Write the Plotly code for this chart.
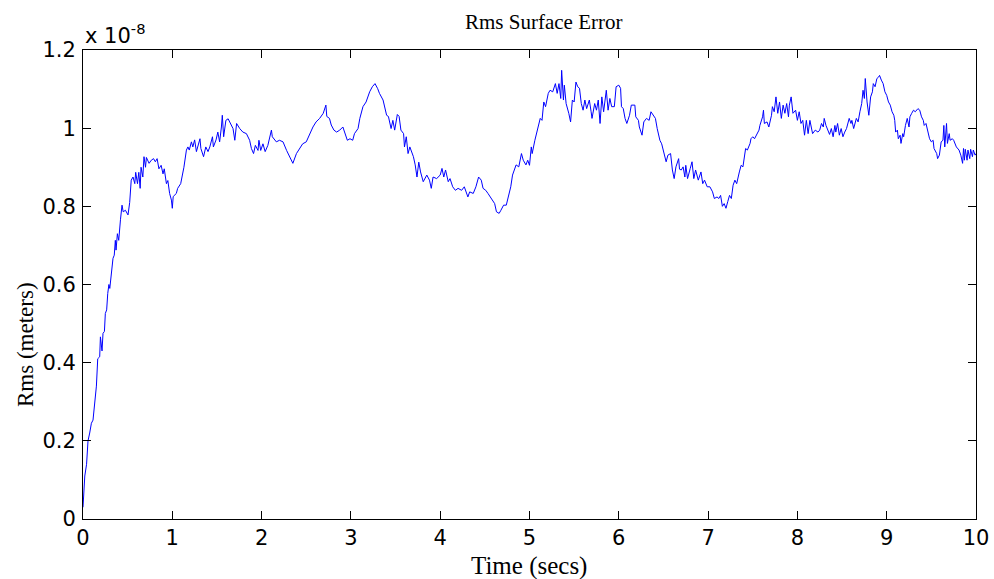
import plotly.graph_objects as go

# RMS surface error samples: (time in s, rms in units of 1e-8 m)
seg_rise = [
    (0.0, 0.03), (0.01, 0.08), (0.02, 0.11), (0.04, 0.14), (0.056, 0.20), (0.075, 0.22),
    (0.094, 0.245), (0.112, 0.253), (0.12, 0.27), (0.15, 0.34), (0.165, 0.41), (0.187, 0.415),
    (0.195, 0.466), (0.213, 0.43), (0.224, 0.475), (0.24, 0.48), (0.25, 0.526), (0.265, 0.535),
    (0.277, 0.577), (0.29, 0.60), (0.30, 0.59), (0.318, 0.637), (0.336, 0.667), (0.35, 0.675),
    (0.362, 0.713), (0.37, 0.688), (0.385, 0.73), (0.40, 0.713), (0.41, 0.757), (0.42, 0.767),
    (0.437, 0.803), (0.45, 0.786), (0.475, 0.79), (0.504, 0.778), (0.523, 0.81), (0.54, 0.867),
    (0.56, 0.875), (0.58, 0.858), (0.59, 0.887), (0.61, 0.858), (0.625, 0.887), (0.64, 0.846),
    (0.65, 0.90), (0.67, 0.875), (0.683, 0.927), (0.70, 0.90), (0.71, 0.925), (0.74, 0.91),
    (0.765, 0.918), (0.79, 0.922), (0.81, 0.914), (0.83, 0.922), (0.85, 0.896), (0.875, 0.905),
    (0.896, 0.883), (0.91, 0.896), (0.934, 0.858), (0.95, 0.866), (0.97, 0.833), (0.99, 0.816),
    (1.0, 0.795), (1.01, 0.825), (1.045, 0.833), (1.06, 0.846), (1.094, 0.858), (1.11, 0.875),
    (1.13, 0.90), (1.158, 0.944), (1.175, 0.952), (1.19, 0.944), (1.214, 0.965), (1.23, 0.952),
    (1.25, 0.97), (1.27, 0.94), (1.29, 0.96), (1.31, 0.973), (1.32, 0.948), (1.35, 0.927),
    (1.375, 0.952), (1.40, 0.94), (1.42, 0.952), (1.45, 0.978), (1.46, 0.952), (1.49, 0.97),
    (1.51, 0.99), (1.53, 0.965), (1.55, 1.003), (1.56, 1.033), (1.575, 0.978), (1.60, 1.02),
    (1.625, 1.024),
]

seg_2_3 = [
    (1.68, 0.999), (1.70, 0.969), (1.72, 1.012), (1.755, 0.999), (1.79, 0.99), (1.83, 0.986),
    (1.85, 0.978), (1.866, 0.969), (1.886, 0.948), (1.91, 0.935), (1.93, 0.956), (1.96, 0.943),
    (1.97, 0.969), (1.99, 0.943), (2.015, 0.96), (2.04, 0.94), (2.07, 0.956), (2.09, 0.978),
    (2.11, 0.995), (2.12, 0.978), (2.165, 0.965), (2.2, 0.969), (2.24, 0.965), (2.28, 0.943),
    (2.315, 0.926), (2.35, 0.91), (2.39, 0.935), (2.43, 0.948), (2.46, 0.96), (2.5, 0.965),
    (2.54, 0.986), (2.575, 1.003), (2.61, 1.016), (2.65, 1.025), (2.69, 1.038), (2.72, 1.059),
    (2.73, 1.03), (2.76, 1.025), (2.78, 1.008), (2.81, 0.995), (2.84, 0.99), (2.875, 0.995),
    (2.91, 1.003), (2.93, 0.99), (2.96, 0.969), (2.99, 0.973), (3.02, 0.969), (3.04, 0.986),
    (3.08, 0.999), (3.10, 1.025), (3.135, 1.055), (3.17, 1.067), (3.21, 1.093), (3.24, 1.106),
    (3.27, 1.114), (3.30, 1.101),
]

seg_3_5 = [
    (3.32, 1.089), (3.36, 1.072), (3.38, 1.055), (3.40, 1.033), (3.42, 1.03), (3.45, 0.999),
    (3.47, 1.02), (3.49, 0.995), (3.52, 1.035), (3.54, 1.03), (3.56, 0.995), (3.59, 0.986),
    (3.60, 0.952), (3.62, 0.978), (3.64, 0.935), (3.66, 0.952), (3.70, 0.927), (3.72, 0.906),
    (3.74, 0.875), (3.76, 0.913), (3.78, 0.888), (3.81, 0.863), (3.85, 0.88), (3.88, 0.867),
    (3.90, 0.846), (3.92, 0.875), (3.96, 0.871), (4.0, 0.88), (4.02, 0.897), (4.04, 0.875),
    (4.06, 0.893), (4.09, 0.863), (4.11, 0.871), (4.14, 0.85), (4.17, 0.841), (4.20, 0.846),
    (4.24, 0.841), (4.27, 0.85), (4.31, 0.824), (4.33, 0.837), (4.37, 0.833), (4.40, 0.85),
    (4.43, 0.875), (4.46, 0.867), (4.48, 0.846), (4.51, 0.841), (4.535, 0.833), (4.57, 0.82),
    (4.61, 0.807), (4.63, 0.786), (4.66, 0.782), (4.68, 0.79), (4.71, 0.803), (4.74, 0.803),
    (4.76, 0.82), (4.79, 0.85), (4.81, 0.88), (4.83, 0.893), (4.85, 0.906), (4.88, 0.901),
    (4.91, 0.935), (4.93, 0.918), (4.96, 0.906), (4.98, 0.918),
]

seg_5_7 = [
    (5.0, 0.905), (5.02, 0.952), (5.03, 0.935), (5.06, 0.969), (5.08, 0.99), (5.10, 1.003),
    (5.12, 1.025), (5.14, 1.02), (5.16, 1.067), (5.18, 1.055), (5.21, 1.089), (5.23, 1.097),
    (5.26, 1.093), (5.29, 1.114), (5.31, 1.089), (5.33, 1.114), (5.35, 1.076), (5.36, 1.148),
    (5.38, 1.072), (5.39, 1.11), (5.41, 1.063), (5.44, 1.038), (5.46, 1.016), (5.48, 1.072),
    (5.50, 1.067), (5.52, 1.118), (5.54, 1.106), (5.56, 1.102), (5.58, 1.063), (5.60, 1.046),
    (5.62, 1.072), (5.64, 1.05), (5.67, 1.072), (5.69, 1.042), (5.70, 1.025), (5.73, 1.063),
    (5.75, 1.046), (5.77, 1.072), (5.79, 1.012), (5.81, 1.08), (5.83, 1.042), (5.86, 1.097),
    (5.88, 1.046), (5.90, 1.076), (5.92, 1.055), (5.95, 1.055), (5.97, 1.106), (6.0, 1.11),
    (6.02, 1.102), (6.03, 1.055), (6.05, 1.05), (6.07, 1.025), (6.09, 1.012), (6.12, 1.033),
    (6.14, 1.059), (6.18, 1.059), (6.19, 1.029), (6.22, 1.02), (6.23, 1.003), (6.26, 0.982),
    (6.28, 1.016), (6.31, 1.025), (6.34, 1.02), (6.36, 1.042), (6.39, 1.033), (6.41, 1.025),
    (6.43, 0.999), (6.46, 0.969), (6.48, 0.96), (6.51, 0.931), (6.53, 0.914), (6.55, 0.931),
    (6.58, 0.935), (6.60, 0.893), (6.62, 0.871), (6.64, 0.901), (6.67, 0.922),
]

seg_7_8 = [
    (6.68, 0.895), (6.70, 0.893), (6.72, 0.901), (6.74, 0.875), (6.75, 0.905), (6.77, 0.871),
    (6.80, 0.897), (6.82, 0.914), (6.84, 0.871), (6.86, 0.893), (6.89, 0.867), (6.92, 0.888),
    (6.94, 0.858), (6.96, 0.867), (6.99, 0.85), (7.02, 0.85), (7.05, 0.837), (7.07, 0.82),
    (7.10, 0.824), (7.12, 0.82), (7.14, 0.828), (7.16, 0.80), (7.18, 0.807), (7.20, 0.795),
    (7.22, 0.812), (7.24, 0.828), (7.26, 0.82), (7.28, 0.854), (7.30, 0.867), (7.32, 0.858),
    (7.35, 0.888), (7.37, 0.905), (7.39, 0.901), (7.41, 0.927), (7.42, 0.948), (7.44, 0.944),
    (7.46, 0.956), (7.47, 0.961), (7.48, 0.973), (7.50, 0.978), (7.52, 0.973), (7.54, 0.982),
    (7.57, 0.995), (7.58, 1.007), (7.61, 1.029), (7.62, 1.046), (7.63, 1.012), (7.66, 1.016),
    (7.68, 1.003), (7.71, 1.033), (7.72, 1.055), (7.74, 1.042), (7.76, 1.080), (7.78, 1.038),
    (7.80, 1.067), (7.82, 1.025), (7.84, 1.059), (7.86, 1.038), (7.88, 1.063), (7.90, 1.029),
    (7.91, 1.059), (7.93, 1.080), (7.95, 1.038), (7.98, 1.046), (8.00, 1.020), (8.02, 1.042),
    (8.04, 1.012), (8.06, 1.020), (8.08, 0.982), (8.10, 1.020), (8.12, 0.986), (8.14, 1.020),
    (8.17, 0.986), (8.20, 0.995), (8.23, 0.99), (8.25, 0.995), (8.27, 1.012), (8.29, 1.003),
    (8.30, 1.025), (8.32, 1.007), (8.34, 0.995),
]

seg_8_10 = [
    (8.36, 0.984), (8.38, 0.999), (8.40, 0.978), (8.42, 1.007), (8.43, 0.99), (8.45, 1.012),
    (8.47, 0.982), (8.49, 0.999), (8.51, 0.978), (8.53, 0.99), (8.55, 0.999), (8.58, 1.025),
    (8.60, 1.012), (8.61, 1.02), (8.63, 0.999), (8.66, 1.025), (8.68, 1.016), (8.70, 1.042),
    (8.72, 1.063), (8.735, 1.097), (8.75, 1.076), (8.76, 1.127), (8.77, 1.089), (8.78, 1.067),
    (8.80, 1.033), (8.82, 1.080), (8.84, 1.093), (8.85, 1.114), (8.87, 1.106), (8.89, 1.127),
    (8.91, 1.131), (8.92, 1.135), (8.94, 1.123), (8.96, 1.114), (8.98, 1.093), (9.00, 1.084),
    (9.02, 1.067), (9.04, 1.059), (9.06, 1.042), (9.08, 1.033), (9.09, 1.020), (9.10, 0.99),
    (9.12, 0.995), (9.13, 0.973), (9.15, 0.982), (9.16, 0.961), (9.18, 0.986), (9.19, 0.978),
    (9.21, 1.007), (9.23, 1.025), (9.25, 1.003), (9.26, 1.029), (9.28, 1.038), (9.30, 1.046),
    (9.32, 1.042), (9.35, 1.050), (9.37, 1.046), (9.39, 1.029), (9.41, 1.020), (9.42, 1.007),
    (9.44, 1.012), (9.46, 0.99), (9.48, 0.973), (9.50, 0.965), (9.52, 0.969), (9.53, 0.948),
    (9.56, 0.935), (9.57, 0.922), (9.59, 0.931), (9.61, 0.965), (9.63, 0.969), (9.64, 1.007),
    (9.65, 0.952), (9.67, 1.012), (9.68, 0.961), (9.70, 0.986), (9.71, 0.969), (9.735, 0.973),
    (9.75, 0.969), (9.78, 0.952), (9.80, 0.948), (9.81, 0.944), (9.83, 0.931), (9.85, 0.910),
    (9.86, 0.948), (9.87, 0.918), (9.88, 0.946), (9.90, 0.918), (9.91, 0.944), (9.93, 0.922),
    (9.94, 0.946), (9.96, 0.927), (9.97, 0.944), (9.99, 0.931), (10.0, 0.935),
]

samples = seg_rise + seg_2_3 + seg_3_5 + seg_5_7 + seg_7_8 + seg_8_10
time_s = [p[0] for p in samples]
rms_e8 = [p[1] for p in samples]

x_ticks = list(range(0, 11))
y_ticks = [0, 0.2, 0.4, 0.6, 0.8, 1.0, 1.2]
y_tick_text = ["0", "0.2", "0.4", "0.6", "0.8", "1", "1.2"]

SANS = "DejaVu Sans, Liberation Sans, Arial, sans-serif"
SERIF = "Liberation Serif, Times New Roman, serif"

W, H = 994, 579
M_L, M_R, M_T, M_B = 83, 18, 50, 60
PLOT_W = W - M_L - M_R
PLOT_H = H - M_T - M_B

fig = go.Figure(
    go.Scatter(
        x=time_s, y=rms_e8, mode="lines",
        line=dict(color="#0000ff", width=1),
        hoverinfo="skip", showlegend=False,
    )
)

axis_common = dict(
    showline=True, linecolor="black", linewidth=1, mirror="ticks",
    ticks="inside", ticklen=8, tickcolor="black", tickwidth=1,
    showgrid=False, zeroline=False, automargin=False,
    tickfont=dict(family=SANS, size=21, color="black"),
)

fig.update_xaxes(range=[0, 10], tickvals=x_ticks,
                 ticktext=[str(v) for v in x_ticks], **axis_common)
fig.update_yaxes(range=[0, 1.2], tickvals=y_ticks, ticktext=y_tick_text,
                 ticklabelstandoff=2, **axis_common)


# page pixel -> paper coordinate (paper spans the plotting area)
def px_x(v):
    return (v - M_L) / PLOT_W


def px_y(v):
    return (H - M_B - v) / PLOT_H


fig.update_layout(
    width=W, height=H,
    margin=dict(l=M_L, r=M_R, t=M_T, b=M_B),
    paper_bgcolor="white", plot_bgcolor="white",
    annotations=[
        dict(text="Rms Surface Error", xref="paper", yref="paper",
             x=px_x(543), y=px_y(22), xanchor="center", yanchor="middle",
             showarrow=False, font=dict(family=SERIF, size=21, color="black")),
        dict(text="Time (secs)", xref="paper", yref="paper",
             x=px_x(529), y=px_y(566), xanchor="center", yanchor="middle",
             showarrow=False, font=dict(family=SERIF, size=25, color="black")),
        dict(text="Rms (meters)", xref="paper", yref="paper", textangle=-90,
             x=px_x(25), y=px_y(345), xanchor="center", yanchor="middle",
             showarrow=False, font=dict(family=SERIF, size=23, color="black")),
        dict(text="x 10<sup>-8</sup>", xref="paper", yref="paper",
             x=0, y=1, xanchor="left", yanchor="bottom", showarrow=False,
             font=dict(family=SANS, size=21, color="black")),
    ],
)

fig.write_html("out.html")
